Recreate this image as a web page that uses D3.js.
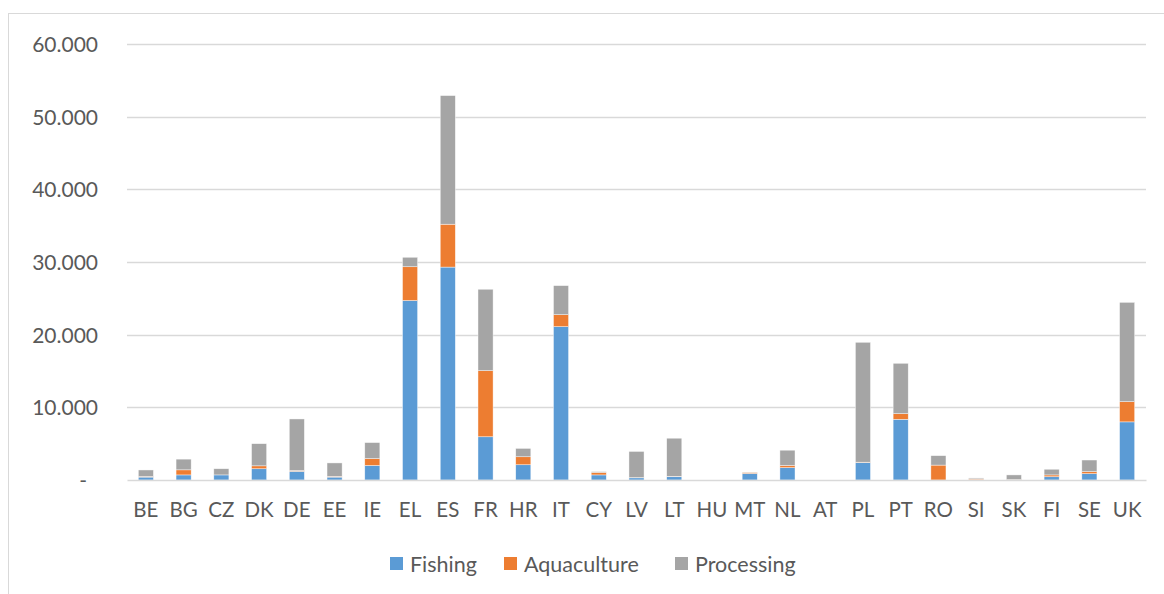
<!DOCTYPE html>
<html>
<head>
<meta charset="utf-8">
<script src="https://cdn.jsdelivr.net/npm/d3@7/dist/d3.min.js"></script>
<style>
  html, body { margin: 0; padding: 0; background: #fff; }
  svg { display: block; font-family: Lato, "Noto Sans", sans-serif; }
</style>
</head>
<body>
<svg id="chart" width="1164" height="594"></svg>
<script>
// Member states
const countries = ["BE","BG","CZ","DK","DE","EE","IE","EL","ES","FR","HR","IT","CY","LV","LT","HU","MT","NL","AT","PL","PT","RO","SI","SK","FI","SE","UK"];

// Employment per sector
const fishing     = [400, 700, 700, 1550, 1200, 400, 2000, 24700, 29300, 5950, 2100, 21100, 700, 300, 450, 0, 900, 1700, 0, 2400, 8350, 0, 60, 0, 450, 870, 8000];
const aquaculture = [80, 700, 0, 400, 100, 100, 950, 4650, 5900, 9100, 1100, 1650, 350, 30, 50, 0, 150, 300, 0, 50, 780, 2050, 120, 50, 250, 280, 2780];
const processing  = [900, 1470, 850, 3050, 7100, 1850, 2200, 1300, 17700, 11200, 1150, 4000, 100, 3600, 5250, 0, 30, 2100, 0, 16500, 6930, 1300, 100, 650, 780, 1600, 13670];

const seriesNames = ["Fishing", "Aquaculture", "Processing"];
const seriesColors = ["#5b9bd5", "#ed7d31", "#a5a5a5"];
const yTicks = [0, 10000, 20000, 30000, 40000, 50000, 60000];

const svg = d3.select("#chart");
const margin = { left: 127, right: 1146, top: 44, bottom: 480 };
const textColor = "#595959";
const gridColor = "#d9d9d9";

// Outer chart frame
svg.append("rect")
  .attr("x", 8.5).attr("y", 13.5)
  .attr("width", 1170).attr("height", 600)
  .attr("fill", "none").attr("stroke", gridColor).attr("stroke-width", 1);

const x = d3.scaleBand().domain(countries).range([margin.left, margin.right]).paddingInner(0.6).paddingOuter(0.3);
const y = d3.scaleLinear().domain([0, 60000]).range([margin.bottom, margin.top]);

// Gridlines
svg.append("g").selectAll("line").data(yTicks.filter(d => d > 0)).join("line")
  .attr("x1", margin.left).attr("x2", margin.right)
  .attr("y1", d => Math.round(y(d)) + 0.5).attr("y2", d => Math.round(y(d)) + 0.5)
  .attr("stroke", gridColor).attr("stroke-width", 1.3);

// Y axis labels
const fmt = d => d === 0 ? "-" : d3.format(",")(d).replace(/,/g, ".");
const yAxis = d3.axisLeft(y).tickValues(yTicks).tickFormat(fmt).tickSize(0).tickPadding(0);
const yG = svg.append("g").attr("transform", "translate(98,0)").call(yAxis);
yG.select(".domain").remove();
yG.selectAll("text")
  .attr("fill", textColor).attr("font-size", 21)
  .attr("font-family", "Lato, 'Noto Sans', sans-serif")
  .attr("dy", "0.35em")
  .attr("dx", d => d === 0 ? -11 : 0);

// Stacked bars
const rows = countries.map((c, i) => ({ country: c, Fishing: fishing[i], Aquaculture: aquaculture[i], Processing: processing[i] }));
const stack = d3.stack().keys(seriesNames)(rows);

svg.append("g").selectAll("g").data(stack).join("g")
  .attr("fill", (d, i) => seriesColors[i])
  .selectAll("rect").data(d => d.filter(s => s[1] - s[0] > 0)).join("rect")
  .attr("x", d => x(d.data.country))
  .attr("width", x.bandwidth())
  .attr("y", d => y(d[1]))
  .attr("height", d => y(d[0]) - y(d[1]))
  .attr("stroke", "#ffffff").attr("stroke-width", 0.6).attr("stroke-opacity", 0.7);

// Category axis
const xAxis = d3.axisBottom(x).tickSize(0).tickPadding(22);
const xG = svg.append("g").attr("transform", `translate(0,${margin.bottom})`).call(xAxis);
xG.select(".domain").attr("stroke", gridColor).attr("stroke-width", 1.5);
xG.selectAll("text")
  .attr("fill", textColor).attr("font-size", 20.5)
  .attr("font-family", "Lato, 'Noto Sans', sans-serif");

// Legend
const legendX = [390, 504, 675];
const legend = svg.append("g").selectAll("g").data(seriesNames).join("g")
  .attr("transform", (d, i) => `translate(${legendX[i]},557)`);
legend.append("rect").attr("width", 13).attr("height", 13).attr("fill", (d, i) => seriesColors[i]);
legend.append("text")
  .attr("x", 20).attr("y", 7).attr("dy", "0.35em")
  .attr("fill", textColor).attr("font-size", 21.5)
  .text(d => d);
</script>
</body>
</html>
